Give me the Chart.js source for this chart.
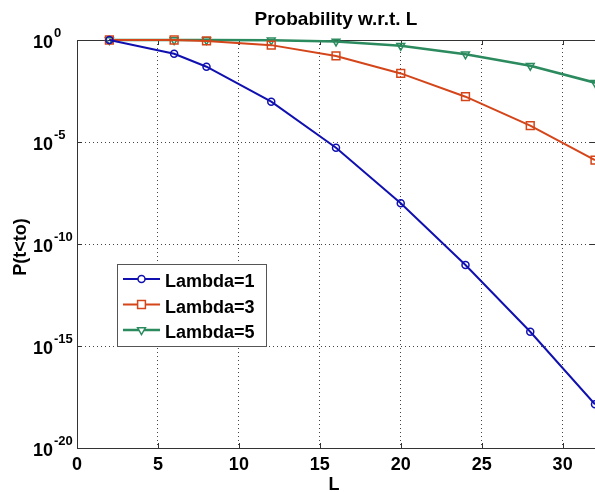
<!DOCTYPE html>
<html>
<head>
<meta charset="utf-8">
<script src="https://cdn.jsdelivr.net/npm/chart.js@4.4.0/dist/chart.umd.min.js"></script>
<style>
  html, body { margin: 0; padding: 0; background: #fff; }
  #wrap { width: 595px; height: 492px; }
</style>
</head>
<body>
<div id="wrap"><canvas id="c" width="595" height="492"></canvas></div>
<script>
const L = [2, 6, 8, 12, 16, 20, 24, 28, 32];
const lambda1 = [1, 0.21, 0.049, 9.5e-4, 5.2e-6, 1.0e-8, 9.3e-12, 5.0e-15, 1.4e-18];
const lambda3 = [1, 1, 0.9, 0.56, 0.166, 0.023, 1.66e-3, 6.3e-5, 1.3e-6];
const lambda5 = [1, 1, 1, 0.97, 0.85, 0.52, 0.2, 0.055, 8.1e-3];
const seriesNames = ['Lambda=1', 'Lambda=3', 'Lambda=5'];
const xTicks = [0, 5, 10, 15, 20, 25, 30];
const yTickExps = [0, -5, -10, -15, -20];

const FONT = '"Liberation Sans", Arial, sans-serif';

const pts = vals => vals.map((v, i) => ({ x: L[i], y: v }));

const datasets = [
  { label: seriesNames[0], data: pts(lambda1), borderColor: '#1010b0', borderWidth: 2,
    pointStyle: 'circle', pointRadius: 3.5, pointRotation: 0 },
  { label: seriesNames[1], data: pts(lambda3), borderColor: '#d4451a', borderWidth: 2,
    pointStyle: 'rect', pointRadius: 5.5, pointRotation: 0 },
  { label: seriesNames[2], data: pts(lambda5), borderColor: '#2b8a5e', borderWidth: 2.5,
    pointStyle: 'triangle', pointRadius: 4.5, pointRotation: 180 }
].map(ds => ({
  ...ds,
  backgroundColor: ds.borderColor,
  pointBorderColor: ds.borderColor,
  pointBackgroundColor: 'rgba(0,0,0,0)',
  pointBorderWidth: 1.5,
  pointHoverRadius: ds.pointRadius,
  tension: 0,
  fill: false,
  clip: false
}));

// frame, inward ticks, tick labels, titles and legend box
const decor = {
  id: 'decor',
  beforeDatasetsDraw(chart) {
    const { ctx, chartArea: a, scales: { x, y } } = chart;
    ctx.save();
    ctx.strokeStyle = '#333';
    ctx.lineWidth = 1;
    ctx.strokeRect(a.left + 0.5, a.top + 0.5, a.right - a.left, a.bottom - a.top);
    ctx.beginPath();
    xTicks.forEach(t => {
      const px = Math.round(x.getPixelForValue(t)) + 0.5;
      ctx.moveTo(px, a.bottom); ctx.lineTo(px, a.bottom - 5);
      ctx.moveTo(px, a.top); ctx.lineTo(px, a.top + 5);
    });
    yTickExps.forEach(e => {
      const py = Math.round(y.getPixelForValue(10 ** e)) + 0.5;
      ctx.moveTo(a.left, py); ctx.lineTo(a.left + 5, py);
      ctx.moveTo(a.right, py); ctx.lineTo(a.right - 5, py);
    });
    ctx.stroke();
    ctx.restore();
  },
  afterDraw(chart) {
    const { ctx, chartArea: a, scales: { x, y } } = chart;
    ctx.save();
    ctx.fillStyle = '#000';
    ctx.textBaseline = 'alphabetic';

    // title
    ctx.font = 'bold 19px ' + FONT;
    ctx.textAlign = 'center';
    ctx.fillText('Probability w.r.t. L', 336, 25);

    // x tick labels
    ctx.font = 'bold 18px ' + FONT;
    xTicks.forEach(t => ctx.fillText(String(t), x.getPixelForValue(t), 470));
    ctx.fillText('L', 334, 490);

    // y tick labels with superscript exponents
    yTickExps.forEach(e => {
      const py = y.getPixelForValue(10 ** e);
      ctx.textAlign = 'left';
      ctx.font = 'bold 18px ' + FONT;
      ctx.fillText('10', 33, py + 8);
      const w = ctx.measureText('10').width;
      ctx.font = 'bold 13px ' + FONT;
      ctx.fillText(String(e), 33 + w + 1, py - 3);
    });

    // y title
    ctx.save();
    ctx.translate(26, 247);
    ctx.rotate(-Math.PI / 2);
    ctx.textAlign = 'center';
    ctx.font = 'bold 18px ' + FONT;
    ctx.fillText('P(t<to)', 0, 0);
    ctx.restore();

    // legend
    const bx = 117, by = 264, bw = 149, bh = 82;
    ctx.fillStyle = '#fff';
    ctx.fillRect(bx, by, bw, bh);
    ctx.strokeStyle = '#555';
    ctx.lineWidth = 1;
    ctx.strokeRect(bx + 0.5, by + 0.5, bw, bh);
    chart.data.datasets.forEach((ds, i) => {
      const ly = 279 + i * 25.5;
      ctx.strokeStyle = ds.borderColor;
      ctx.lineWidth = ds.borderWidth;
      ctx.beginPath();
      ctx.moveTo(123, ly); ctx.lineTo(160, ly);
      ctx.stroke();
      ctx.fillStyle = '#fff';
      ctx.lineWidth = ds.pointBorderWidth;
      Chart.helpers.drawPoint(ctx, {
        pointStyle: ds.pointStyle, rotation: ds.pointRotation,
        radius: ds.pointRadius, borderWidth: ds.pointBorderWidth
      }, 141.5, ly);
      ctx.fillStyle = '#000';
      ctx.textAlign = 'left';
      ctx.font = 'bold 18px ' + FONT;
      ctx.fillText(ds.label, 165, ly + 8);
    });
    ctx.restore();
  }
};

new Chart(document.getElementById('c'), {
  type: 'line',
  data: { datasets },
  options: {
    responsive: false,
    animation: false,
    layout: { autoPadding: false, padding: { left: 77, top: 40, right: 0, bottom: 44 } },
    plugins: { legend: { display: false }, title: { display: false }, tooltip: { enabled: false } },
    scales: {
      x: {
        type: 'linear', min: 0, max: 32,
        afterBuildTicks: s => { s.ticks = xTicks.map(v => ({ value: v })); },
        ticks: { display: false },
        grid: { color: '#444', lineWidth: 1, drawTicks: false },
        border: { display: false, dash: [1, 3] }
      },
      y: {
        type: 'logarithmic', min: 1e-20, max: 1,
        afterBuildTicks: s => { s.ticks = yTickExps.map(e => ({ value: 10 ** e })); },
        ticks: { display: false },
        grid: { color: '#444', lineWidth: 1, drawTicks: false },
        border: { display: false, dash: [1, 3] }
      }
    }
  },
  plugins: [decor]
});
</script>
</body>
</html>
